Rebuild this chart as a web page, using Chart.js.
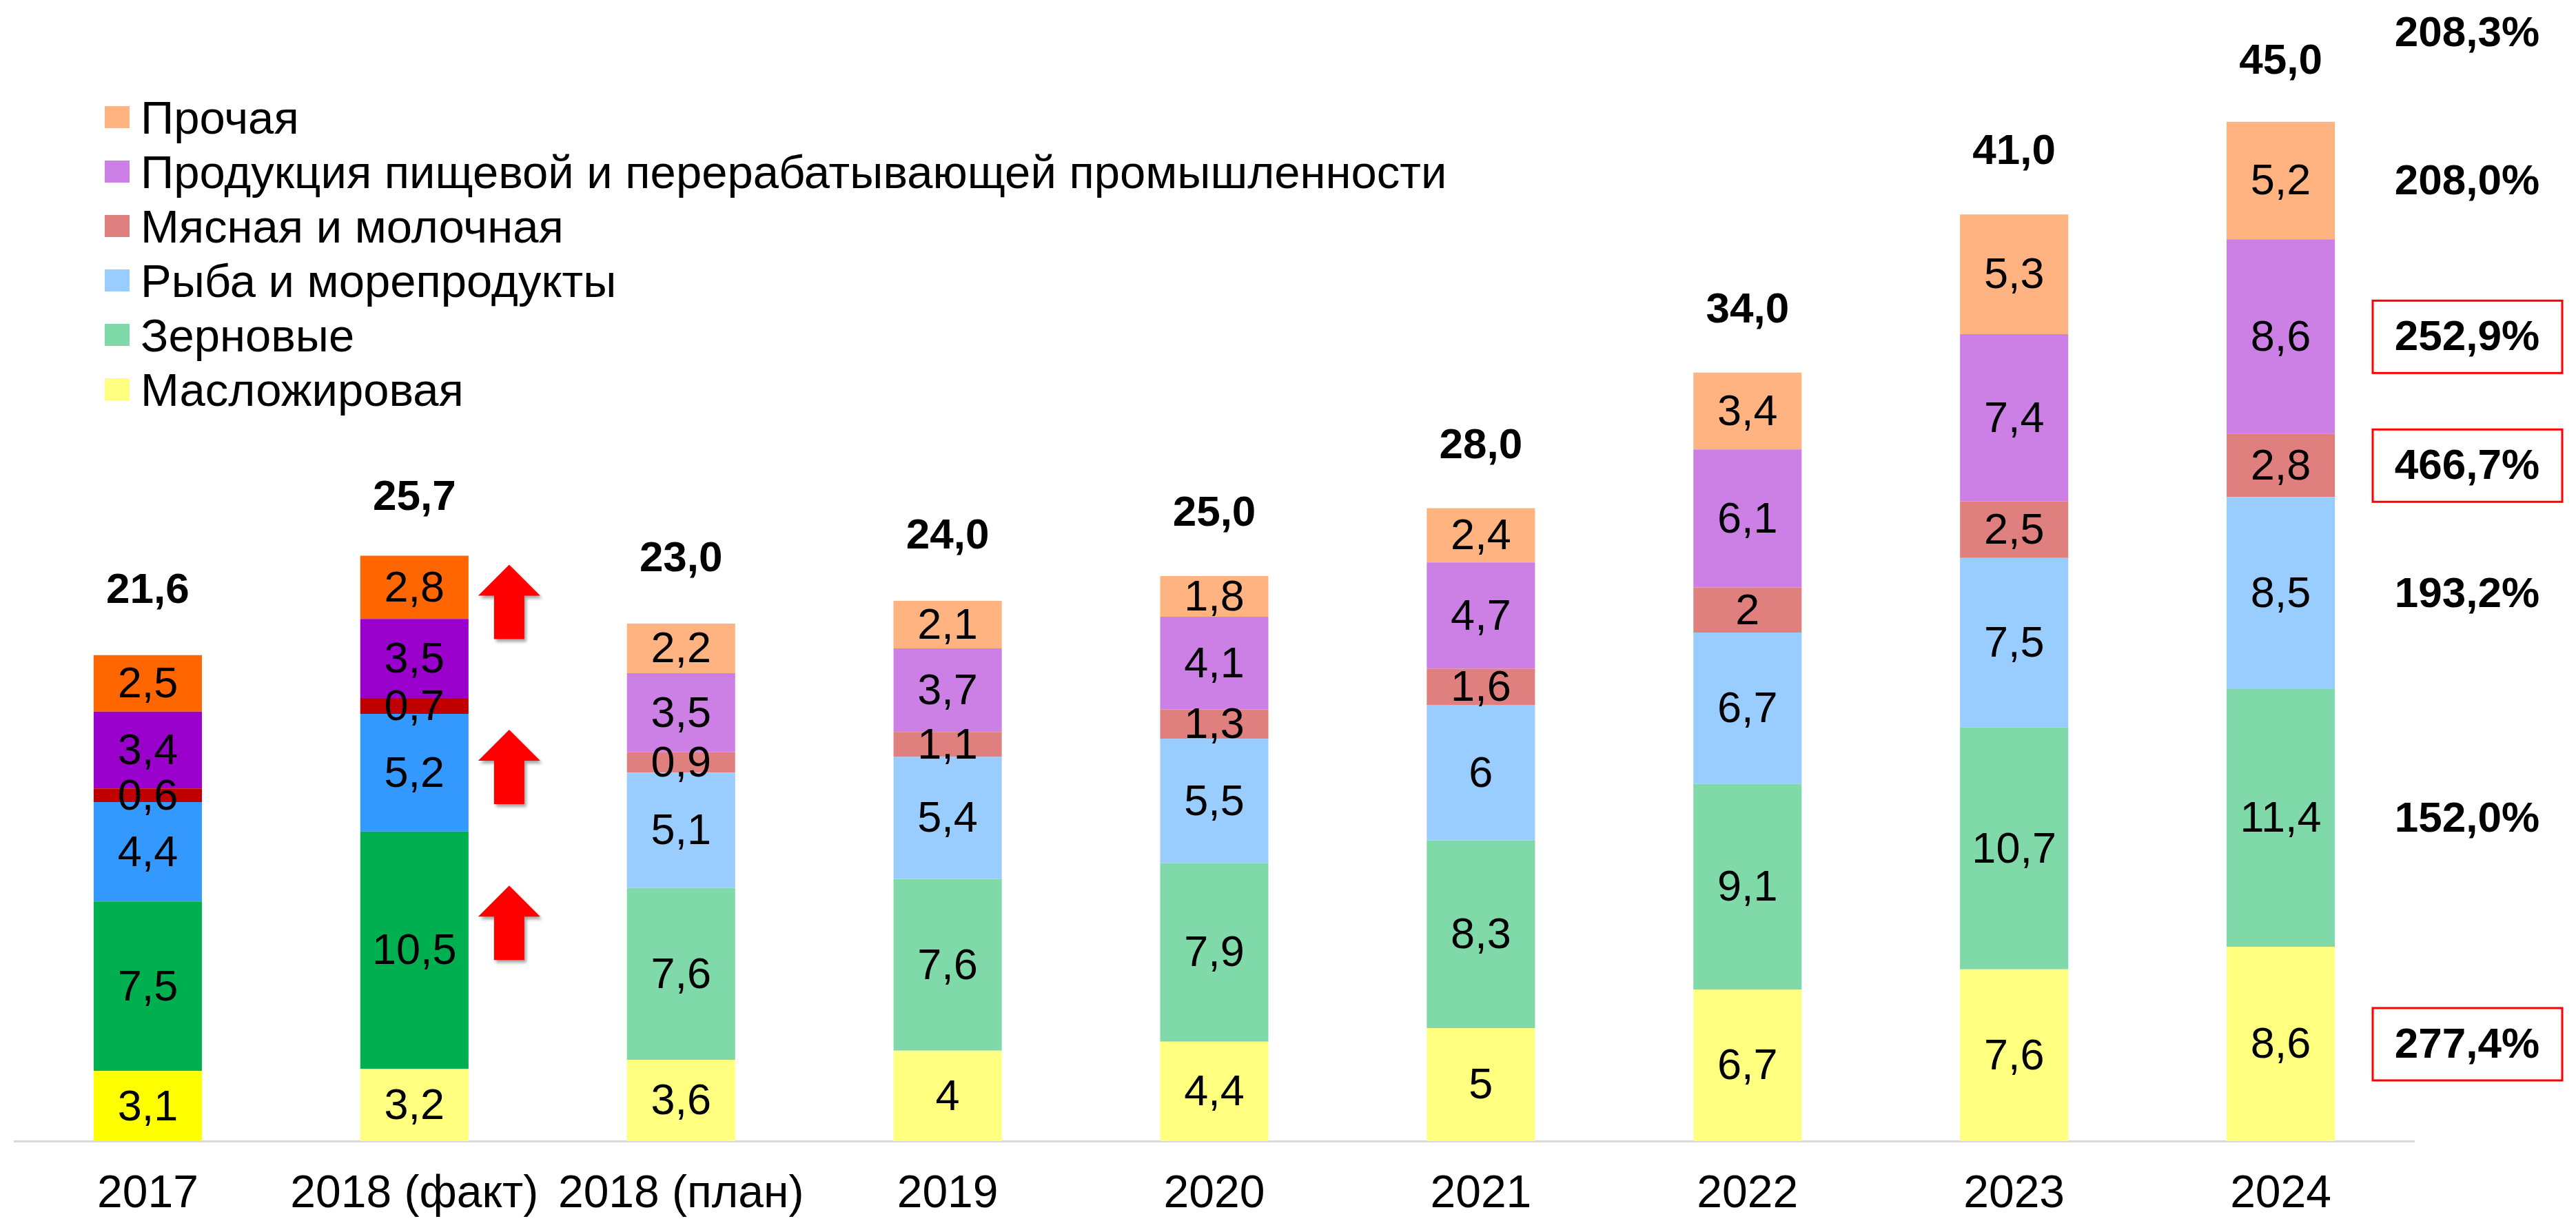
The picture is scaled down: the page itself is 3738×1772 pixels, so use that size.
<!DOCTYPE html>
<html lang="ru">
<head>
  <meta charset="UTF-8">
  <title>Экспорт продукции АПК</title>
  <script src="https://cdn.jsdelivr.net/npm/chart.js"></script>
  <style>
    html, body {
      margin: 0;
      padding: 0;
      background: #fff;
    }
    canvas {
      display: block;
    }
  </style>
</head>
<body>

  <canvas id="exportChart" width="3738" height="1772"></canvas>

  <script>
    // --- data ---
    const categories = ['2017', '2018 (факт)', '2018 (план)', '2019', '2020', '2021', '2022', '2023', '2024'];
    const seriesNames = ['Масложировая', 'Зерновые', 'Рыба и морепродукты', 'Мясная и молочная',
      'Продукция пищевой и перерабатывающей промышленности', 'Прочая'];

    const oilFat       = [3.1, 3.2, 3.6, 4, 4.4, 5, 6.7, 7.6, 8.6];
    const grain        = [7.5, 10.5, 7.6, 7.6, 7.9, 8.3, 9.1, 10.7, 11.4];
    const fish         = [4.4, 5.2, 5.1, 5.4, 5.5, 6, 6.7, 7.5, 8.5];
    const meatMilk     = [0.6, 0.7, 0.9, 1.1, 1.3, 1.6, 2, 2.5, 2.8];
    const foodIndustry = [3.4, 3.5, 3.5, 3.7, 4.1, 4.7, 6.1, 7.4, 8.6];
    const other        = [2.5, 2.8, 2.2, 2.1, 1.8, 2.4, 3.4, 5.3, 5.2];
    const totals       = [21.6, 25.7, 23.0, 24.0, 25.0, 28.0, 34.0, 41.0, 45.0];

    // growth 2024 vs 2017, per series (bottom to top) and overall
    const growth = ['277,4%', '152,0%', '193,2%', '466,7%', '252,9%', '208,0%'];
    const growthBoxed = [true, false, false, true, true, false];
    const totalGrowth = '208,3%';

    // red arrows next to "2018 (факт)", tip levels in chart units
    const arrowLevels = [25.5, 18.2, 11.3];

    const lightColors = ['#FFFF80', '#80D9A8', '#99CCFF', '#DF807F', '#CC80E5', '#FFB380'];
    const vividColors = ['#FFFF00', '#00B050', '#3399FF', '#C00000', '#9900CC', '#FF6600'];

    const FONT = '"Liberation Sans", Arial, sans-serif';

    function fmt(v) {
      return String(v).replace('.', ',');
    }

    // 2017 is all vivid, 2018 (факт) vivid except the yellow part
    function barColor(ctx) {
      const i = ctx.dataIndex, s = ctx.datasetIndex;
      if (i === 0 || (i === 1 && s > 0)) return vividColors[s];
      return lightColors[s];
    }

    const seriesData = [oilFat, grain, fish, meatMilk, foodIndustry, other];

    const extrasPlugin = {
      id: 'extras',
      afterDatasetsDraw(chart) {
        const ctx = chart.ctx;
        const yScale = chart.scales.y;
        const area = chart.chartArea;
        const last = categories.length - 1;
        ctx.save();
        ctx.textAlign = 'center';
        ctx.textBaseline = 'middle';
        ctx.fillStyle = '#000';

        // values inside segments
        ctx.font = '63px ' + FONT;
        chart.data.datasets.forEach((ds, s) => {
          chart.getDatasetMeta(s).data.forEach((bar, i) => {
            ctx.fillText(fmt(ds.data[i]), bar.x, (bar.y + bar.base) / 2 + 3);
          });
        });

        // totals above bars
        ctx.font = 'bold 62px ' + FONT;
        const meta0 = chart.getDatasetMeta(0);
        totals.forEach((t, i) => {
          ctx.fillText(t.toFixed(1).replace('.', ','), meta0.data[i].x, yScale.getPixelForValue(t) - 90);
        });

        // growth column on the right
        const gx = area.right + 77;
        growth.forEach((txt, s) => {
          const bar = chart.getDatasetMeta(s).data[last];
          const cy = (bar.y + bar.base) / 2;
          ctx.fillStyle = '#000';
          ctx.fillText(txt, gx, cy + 3);
          if (growthBoxed[s]) {
            ctx.strokeStyle = '#FF0000';
            ctx.lineWidth = 3;
            ctx.strokeRect(gx - 137, cy - 52, 275, 105);
          }
        });
        ctx.fillText(totalGrowth, gx, yScale.getPixelForValue(totals[last]) - 130);

        // red arrows
        const b = meta0.data[1];
        const x0 = b.x + b.width / 2 + 14;
        ctx.fillStyle = '#FF0000';
        ctx.shadowColor = 'rgba(0,0,0,0.35)';
        ctx.shadowOffsetX = 3;
        ctx.shadowOffsetY = 4;
        ctx.shadowBlur = 4;
        arrowLevels.forEach(level => {
          const ty = yScale.getPixelForValue(level);
          ctx.beginPath();
          ctx.moveTo(x0 + 45, ty);
          ctx.lineTo(x0 + 90, ty + 45);
          ctx.lineTo(x0 + 67, ty + 45);
          ctx.lineTo(x0 + 67, ty + 108);
          ctx.lineTo(x0 + 23, ty + 108);
          ctx.lineTo(x0 + 23, ty + 45);
          ctx.lineTo(x0, ty + 45);
          ctx.closePath();
          ctx.fill();
        });
        ctx.restore();

        // legend, top item first
        ctx.save();
        ctx.font = '67px ' + FONT;
        ctx.textAlign = 'left';
        ctx.textBaseline = 'alphabetic';
        for (let k = 0; k < seriesNames.length; k++) {
          const s = seriesNames.length - 1 - k;
          const cy = 170 + k * 79;
          ctx.fillStyle = lightColors[s];
          ctx.fillRect(152, cy - 16, 36, 32);
          ctx.fillStyle = '#000';
          ctx.fillText(seriesNames[s], 204, cy + 24);
        }
        ctx.restore();
      }
    };

    const ctx = document.getElementById('exportChart').getContext('2d');
    new Chart(ctx, {
      type: 'bar',
      data: {
        labels: categories,
        datasets: seriesData.map((d, s) => ({
          label: seriesNames[s],
          data: d,
          backgroundColor: barColor,
          borderWidth: 0,
          barPercentage: 0.406,
          categoryPercentage: 1
        }))
      },
      options: {
        responsive: false,
        animation: false,
        layout: {
          padding: { left: 21, right: 235, top: 16, bottom: 0 }
        },
        scales: {
          x: {
            stacked: true,
            grid: { display: false, drawTicks: false },
            border: { display: true, color: '#D9D9D9', width: 3 },
            ticks: {
              color: '#000',
              padding: 38,
              maxRotation: 0,
              autoSkip: false,
              font: { family: FONT, size: 66 }
            },
            afterFit(scale) {
              scale.height = 116;
            }
          },
          y: {
            stacked: true,
            display: false,
            min: 0,
            max: 50
          }
        },
        plugins: {
          legend: { display: false },
          tooltip: { enabled: false }
        }
      },
      plugins: [extrasPlugin]
    });
  </script>

</body>
</html>
